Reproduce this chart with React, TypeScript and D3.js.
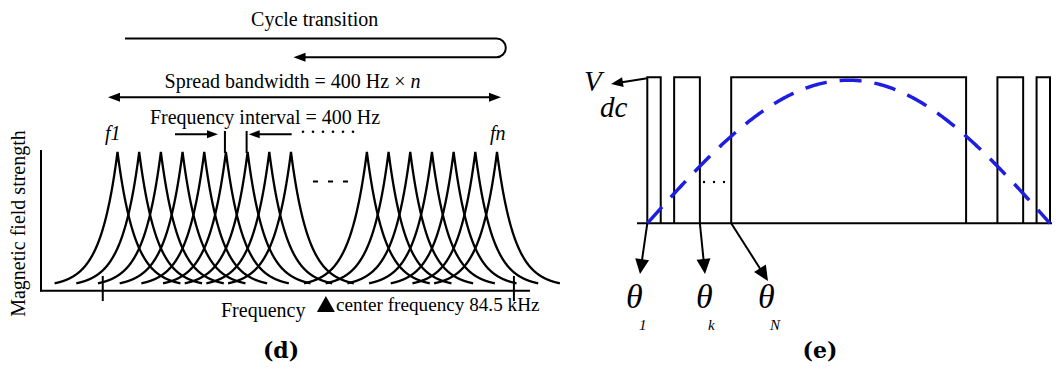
import React from "react";
import * as d3 from "d3";

const W = 1056;
const H = 371;
const SERIF = "Liberation Serif, Times New Roman, serif";
const BOLD_SERIF = "DejaVu Serif, serif";

// ---------- (d) spread-spectrum carriers ----------
// carrier positions, in units of the 400 Hz frequency interval
const leftCarriers = [0, 1, 2, 3, 4, 5, 6, 7, 8];
const rightCarriers = [11.5, 12.5, 13.5, 14.5, 15.5, 16.5, 17.5];
const bandEdgeTicks = [-0.68, 18.28];
const centerCarrier = 9.61;
const decay = 0.8; // exponential roll-off of each carrier
const skirt = 2.9; // half width of each carrier skirt

// ---------- (e) SPWM switching pattern ----------
// switching angles in degrees over one half period
const pulses: [number, number][] = [
  [0, 6],
  [12, 23.5],
  [37.5, 142.5],
  [156.5, 168],
  [174, 180],
];
const sineAmplitude = 0.98;
const thetaMarks = [
  { angle: 0, label: "θ", sub: "1" },
  { angle: 23.5, label: "θ", sub: "k" },
  { angle: 37.5, label: "θ", sub: "N" },
];

function head(tx: number, ty: number, fx: number, fy: number, len: number, hw: number) {
  const a = Math.atan2(ty - fy, tx - fx);
  const bx = tx - len * Math.cos(a);
  const by = ty - len * Math.sin(a);
  const nx = -Math.sin(a);
  const ny = Math.cos(a);
  return `${tx},${ty} ${bx + nx * hw},${by + ny * hw} ${bx - nx * hw},${by - ny * hw}`;
}

function Arrow({ x1, y1, x2, y2, len = 12, hw = 4.5, sw = 2 }: any) {
  const a = Math.atan2(y2 - y1, x2 - x1);
  const ex = x2 - (len - 1) * Math.cos(a);
  const ey = y2 - (len - 1) * Math.sin(a);
  return (
    <g>
      <line x1={x1} y1={y1} x2={ex} y2={ey} stroke="#000" strokeWidth={sw} />
      <polygon points={head(x2, y2, x1, y1, len, hw)} fill="#000" />
    </g>
  );
}

const serif = (size: number, extra: any = {}) => ({ fontFamily: SERIF, fontSize: `${size}px`, ...extra });

function SpectrumPanel() {
  const x = d3.scaleLinear().domain([0, 17.5]).range([117.5, 497]);
  const y = d3.scaleLinear().domain([0, 1]).range([283.3, 152]);
  const floor = Math.exp(-skirt / decay);
  const profile = (d: number) => (Math.exp(-Math.abs(d) / decay) - floor) / (1 - floor);
  const offsets = d3.range(-skirt, skirt + 0.0001, 0.01);
  const carrierPath = (c: number) =>
    d3
      .line<number>()
      .x((d) => x(c + d))
      .y((d) => y(profile(d)))(offsets) as string;
  const carriers = [...leftCarriers, ...rightCarriers];
  const cx = x(centerCarrier);
  return (
    <g fill="#000">
      {/* cycle transition */}
      <text x={314.7} y={26} style={serif(20)} textAnchor="middle">Cycle transition</text>
      <path d="M125,38.5 H496.4 A9.4,9.4 0 0 1 496.4,57.3 H304" fill="none" stroke="#000" strokeWidth={2} />
      <polygon points={head(293.5, 57.3, 320, 57.3, 12, 4.5)} fill="#000" />

      {/* spread bandwidth */}
      <text x={292.5} y={88.3} style={serif(20)} textAnchor="middle">
        Spread bandwidth = 400 Hz × <tspan style={{ fontStyle: "italic" }}>n</tspan>
      </text>
      <line x1={119} y1={97.3} x2={490} y2={97.3} stroke="#000" strokeWidth={2} />
      <polygon points={head(108, 97.3, 130, 97.3, 12, 4.5)} fill="#000" />
      <polygon points={head(501, 97.3, 480, 97.3, 12, 4.5)} fill="#000" />

      {/* frequency interval */}
      <text x={265} y={124} style={serif(20)} textAnchor="middle">Frequency interval = 400 Hz</text>
      <Arrow x1={175} y1={134.3} x2={218} y2={134.3} len={11} hw={4} />
      <Arrow x1={291.7} y1={134.3} x2={248.7} y2={134.3} len={11} hw={4} />
      <line x1={x(5) - 1} y1={131} x2={x(5) - 1} y2={153} stroke="#000" strokeWidth={2} />
      <line x1={x(6) - 1} y1={131} x2={x(6) - 1} y2={153} stroke="#000" strokeWidth={2} />
      {d3.range(6).map((i) => (
        <circle key={i} cx={303 + i * 10} cy={131.7} r={1.3} />
      ))}
      <text x={105} y={140} style={serif(20, { fontStyle: "italic" })}>f1</text>
      <text x={490} y={140} style={serif(20, { fontStyle: "italic" })}>fn</text>

      {/* carriers */}
      {carriers.map((c) => (
        <path key={c} d={carrierPath(c)} fill="none" stroke="#000" strokeWidth={2.3} />
      ))}
      {[0, 1, 2].map((i) => (
        <line key={i} x1={313 + i * 15} y1={181.5} x2={318 + i * 15} y2={181.5} stroke="#000" strokeWidth={2} />
      ))}

      {/* axes */}
      <line x1={41} y1={150} x2={41} y2={291.5} stroke="#000" strokeWidth={2} />
      <line x1={40} y1={290.7} x2={530} y2={290.7} stroke="#000" strokeWidth={2} />
      {bandEdgeTicks.map((t) => (
        <line key={t} x1={x(t)} y1={276} x2={x(t)} y2={301} stroke="#000" strokeWidth={2} />
      ))}
      <text transform="translate(24.5,223.5) rotate(-90)" style={serif(20)} textAnchor="middle">
        Magnetic field strength
      </text>
      <text x={221} y={317} style={serif(20)}>Frequency</text>
      <polygon points={`${cx},${296} ${cx - 9},${312} ${cx + 9},${312}`} fill="#000" />
      <text x={336} y={311} style={serif(19.2)}>center frequency 84.5 kHz</text>

      <text x={281} y={358} textAnchor="middle" style={{ fontFamily: BOLD_SERIF, fontSize: "22px", fontWeight: "bold" }}>
        (d)
      </text>
    </g>
  );
}

function SwitchingPanel() {
  const x = d3.scaleLinear().domain([0, 180]).range([647.3, 1050]);
  const y = d3.scaleLinear().domain([0, 1]).range([223.3, 77.3]);
  const pulsePath = ([a, b]: [number, number]) =>
    `M${x(a)},${y(0)} V${y(1)} H${x(b)} V${y(0)}`;
  const sine = d3
    .line<number>()
    .x((d) => x(d))
    .y((d) => y(sineAmplitude * Math.sin((d * Math.PI) / 180)))(d3.range(0, 180.5, 0.5)) as string;
  const tips = [
    { tx: 640, ty: 274, lx: 626, sx: 639 },
    { tx: 705, ty: 274, lx: 696, sx: 708 },
    { tx: 768, ty: 281, lx: 758, sx: 770 },
  ];
  return (
    <g fill="#000">
      <line x1={637} y1={y(0)} x2={1052} y2={y(0)} stroke="#000" strokeWidth={2} />
      {pulses.map((p, i) => (
        <path key={i} d={pulsePath(p)} fill="none" stroke="#000" strokeWidth={2} />
      ))}
      <path d={sine} fill="none" stroke="#1e1ee0" strokeWidth={3.5} strokeDasharray="22 13" />
      {[0, 1, 2].map((i) => (
        <circle key={i} cx={704 + i * 10} cy={182} r={1.2} />
      ))}

      {/* DC level */}
      <Arrow x1={x(0)} y1={y(1) + 1} x2={611} y2={84} len={12} hw={5} />
      <text x={584} y={91} style={serif(29, { fontStyle: "italic" })}>V</text>
      <text x={600} y={117} style={serif(29, { fontStyle: "italic" })}>dc</text>

      {/* switching angles */}
      {thetaMarks.map((m, i) => {
        const t = tips[i];
        return (
          <g key={m.sub}>
            <Arrow x1={x(m.angle)} y1={y(0)} x2={t.tx} y2={t.ty} len={15} hw={7} />
            <text x={t.lx} y={308} style={serif(34, { fontStyle: "italic" })}>{m.label}</text>
            <text x={t.sx} y={329.5} style={serif(15, { fontStyle: "italic" })}>{m.sub}</text>
          </g>
        );
      })}

      <text x={820} y={358} textAnchor="middle" style={{ fontFamily: BOLD_SERIF, fontSize: "22px", fontWeight: "bold" }}>
        (e)
      </text>
    </g>
  );
}

export default function App() {
  return (
    <svg
      width={W}
      height={H}
      viewBox={`0 0 ${W} ${H}`}
      style={{ position: "absolute", left: 0, top: 0, background: "#fff" }}
    >
      <rect width={W} height={H} fill="#fff" />
      <SpectrumPanel />
      <SwitchingPanel />
    </svg>
  );
}
